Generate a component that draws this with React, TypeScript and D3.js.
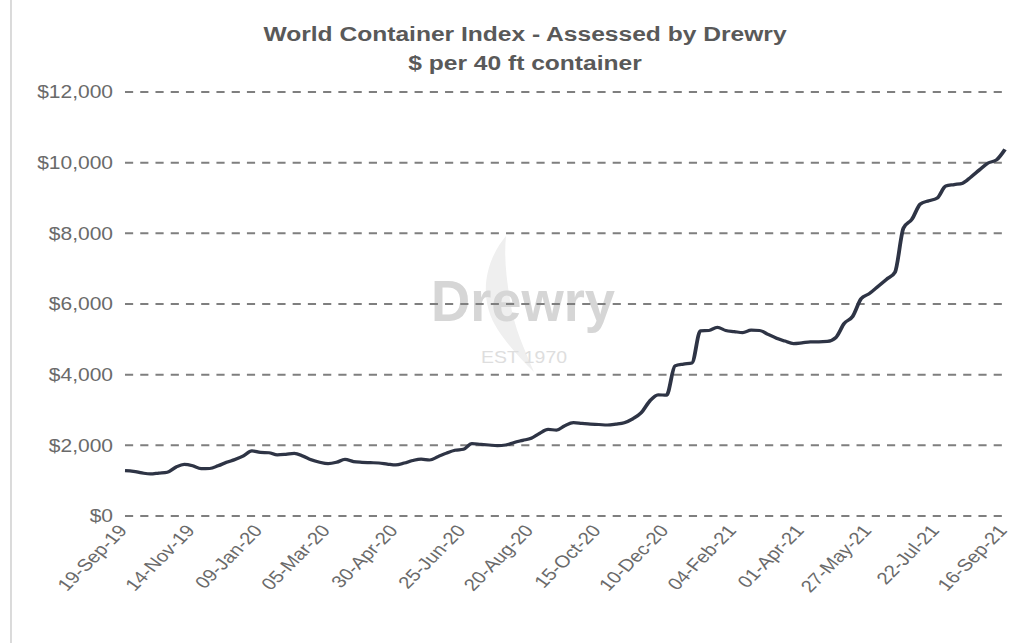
import React from "react";
import * as d3 from "d3";

// Horizontal stretch of the drawing: the SVG uses a narrower viewBox and is
// widened to the full page width.
const SX = 1.2;
const PAGE_W = 1022;
const PAGE_H = 643;
const W = PAGE_W / SX;
const H = PAGE_H;

// Weekly composite index, USD per 40 ft container, starting 19-Sep-19
const firstWeek = "19-Sep-19";
const weeklyIndex = [
  1282, 1265, 1220, 1190, 1215, 1240, 1380, 1460, 1420, 1340,
  1345, 1420, 1520, 1600, 1700, 1845, 1800, 1790, 1730, 1745,
  1770, 1700, 1590, 1520, 1480, 1520, 1600, 1540, 1520, 1510,
  1500, 1470, 1445, 1500, 1570, 1610, 1585, 1680, 1780, 1860,
  1890, 2050, 2030, 2010, 1990, 2010, 2080, 2140, 2200, 2340,
  2450, 2430, 2560, 2640, 2620, 2600, 2590, 2575, 2600, 2640,
  2750, 2920, 3250, 3430, 3420, 4250, 4300, 4330, 5240, 5250,
  5340, 5250, 5220, 5190, 5260, 5250, 5140, 5030, 4950, 4880,
  4900, 4930, 4930, 4940, 5050, 5450, 5650, 6150, 6300, 6500,
  6700, 6900, 8150, 8400, 8830, 8920, 9000, 9340, 9380, 9420,
  9600, 9800, 9990, 10080, 10377,
];

const yTicks = [0, 2000, 4000, 6000, 8000, 10000, 12000];

const xTickLabels = [
  "19-Sep-19", "14-Nov-19", "09-Jan-20", "05-Mar-20", "30-Apr-20",
  "25-Jun-20", "20-Aug-20", "15-Oct-20", "10-Dec-20", "04-Feb-21",
  "01-Apr-21", "27-May-21", "22-Jul-21", "16-Sep-21",
];

const titleLines = ["World Container Index - Assessed by Drewry", "$ per 40 ft container"];

const FONT = "'Liberation Sans', Arial, Helvetica, sans-serif";

export default function App() {
  const parse = d3.timeParse("%d-%b-%y");
  const start = parse(firstWeek) as Date;
  const dates = weeklyIndex.map((_, i) => d3.timeDay.offset(start, 7 * i));

  const x = d3
    .scaleTime()
    .domain([dates[0], dates[dates.length - 1]])
    .range([125 / SX, 1005 / SX]);
  const y = d3.scaleLinear().domain([0, 12000]).range([516, 92]);

  const line = d3
    .line<number>()
    .x((_, i) => x(dates[i]))
    .y((d) => y(d))
    .curve(d3.curveMonotoneX);

  const fmt = d3.format("$,.0f");
  const [x0, x1] = x.range();
  const cx = 525 / SX;
  // rotation in viewBox space that reads as 45 degrees after the stretch
  const labelAngle = (Math.atan(SX) * 180) / Math.PI;

  return (
    <svg
      width={PAGE_W}
      height={PAGE_H}
      viewBox={`0 0 ${W} ${H}`}
      preserveAspectRatio="none"
      style={{ position: "absolute", left: 0, top: 0, background: "#fff" }}
      fontFamily={FONT}
    >
      <rect x={0} y={0} width={W} height={H} fill="#fff" />
      {/* left frame edge */}
      <line x1={11 / SX} x2={11 / SX} y1={0} y2={H} stroke="#d4d4d4" strokeWidth={1.4} />

      {/* watermark */}
      <g>
        <path
          d={`M ${506 / SX} 236 C ${484 / SX} 262, ${478 / SX} 300, ${498 / SX} 330 C ${510 / SX} 348, ${522 / SX} 360, ${534 / SX} 372 C ${524 / SX} 348, ${514 / SX} 328, ${510 / SX} 300 C ${506 / SX} 276, ${504 / SX} 256, ${506 / SX} 236 Z`}
          fill="#efefef"
        />
        <text
          x={cx - 2 / SX}
          y={321}
          textAnchor="middle"
          fontSize={58}
          textLength={184 / SX}
          lengthAdjust="spacingAndGlyphs"
          fill="#d6d6d6"
          fontWeight="bold"
        >
          Drewry
        </text>
        <text
          x={524 / SX}
          y={363}
          textAnchor="middle"
          fontSize={16}
          textLength={86 / SX}
          lengthAdjust="spacingAndGlyphs"
          fill="#dedede"
        >
          EST 1970
        </text>
      </g>

      {/* gridlines */}
      {yTicks.map((t) => (
        <line
          key={t}
          x1={x0}
          x2={x1}
          y1={y(t)}
          y2={y(t)}
          stroke="#7f7f7f"
          strokeWidth={2}
          strokeDasharray="6.8 5.9"
        />
      ))}

      {/* y axis labels */}
      {yTicks.map((t) => (
        <text
          key={t}
          x={113 / SX}
          y={y(t)}
          dy="0.36em"
          textAnchor="end"
          fontSize={17.5}
          fill="#6a6a6a"
        >
          {fmt(t)}
        </text>
      ))}

      {/* x axis labels */}
      {xTickLabels.map((lab) => {
        const d = parse(lab) as Date;
        return (
          <text
            key={lab}
            transform={`translate(${x(d) + 3 / SX},${531}) rotate(${-labelAngle})`}
            textAnchor="end"
            fontSize={17}
            fill="#6a6a6a"
          >
            {lab}
          </text>
        );
      })}

      {/* index line */}
      <path d={line(weeklyIndex) || ""} fill="none" stroke="#2e3445" strokeWidth={3.2} strokeLinejoin="round" />

      {/* title */}
      {titleLines.map((t, i) => (
        <text
          key={i}
          x={cx}
          y={41 + i * 29}
          textAnchor="middle"
          fontSize={20.5}
          fontWeight="bold"
          fill="#595959"
        >
          {t}
        </text>
      ))}
    </svg>
  );
}
